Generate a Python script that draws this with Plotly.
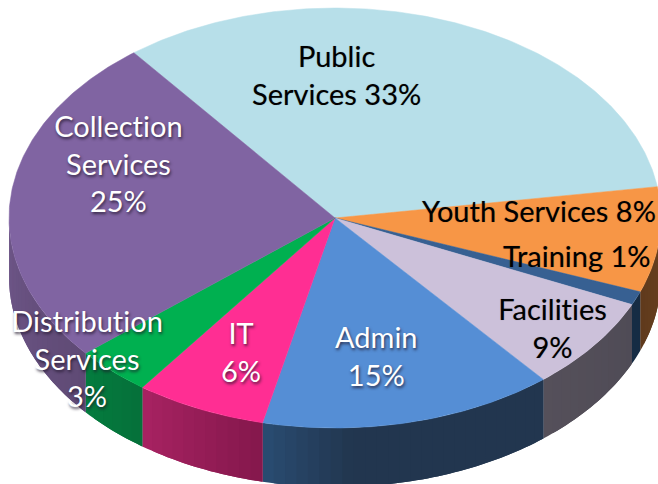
import numpy as np
import plotly.graph_objects as go

categories = ["Public Services", "Youth Services", "Training", "Facilities",
              "Admin", "IT", "Distribution Services", "Collection Services"]
# Slice shares as they appear in the tilted drawing (percent)
shares = [33.2, 8.1, 1.05, 7.2, 14.6, 6.5, 3.8, 25.55]
top_colors = ["#b7dfe9", "#f79646", "#376092", "#ccc1da", "#558ed5", "#ff2e93", "#00b050", "#8064a2"]
side_left = ["#8fb0b8", "#5f3a1c", "#17304a", "#55505a", "#2a4c72", "#a82262", "#047c3e", "#6e5688"]
side_right = ["#8fb0b8", "#6a4020", "#14283e", "#4f4b56", "#22364f", "#84184c", "#05703a", "#5f4a75"]
gradient_span = [1, 1, 1, 1, 0.3, 1, 1, 1]
label_lines = [("Public<br>Services 33%", 336, 74, "#000000"),
               ("Youth Services 8%", 539, 210, "#000000"),
               ("Training 1%", 577, 255, "#000000"),
               ("Facilities<br>9%", 552, 327, "#000000"),
               ("Admin<br>15%", 376, 355, "#ffffff"),
               ("IT<br>6%", 241, 351, "#ffffff"),
               ("Distribution<br>Services<br>3%", 87, 358, "#ffffff"),
               ("Collection<br>Services<br>25%", 118, 163, "#ffffff")]

CX, CY, RX, RY, DEPTH = 335, 218, 326, 210, 59
START = 128.1


def rim(t_deg, drop=0):
    t = np.radians(t_deg)
    return CX + RX * np.cos(t), CY - RY * np.sin(t) + drop


def mix(a, b, f):
    ca = [int(a[i:i + 2], 16) for i in (1, 3, 5)]
    cb = [int(b[i:i + 2], 16) for i in (1, 3, 5)]
    return "rgb(%d,%d,%d)" % tuple(round(p + (q - p) * f) for p, q in zip(ca, cb))


edges = START - np.concatenate([[0], np.cumsum(shares)]) * 3.6
fig = go.Figure()

# Side wall: only the near half of the rim shows
for i, name in enumerate(categories):
    a, b = edges[i], edges[i + 1]
    lo, hi = max(min(a, b), -180), min(max(a, b), 0)
    if hi <= lo:
        continue
    steps = max(1, int((hi - lo) / 2))
    ts = np.linspace(lo, hi, steps + 1)
    for k in range(steps):
        # every band runs on under the next one so no seams show
        end = min(hi, ts[k + 1] + (hi - lo) / steps)
        arc = np.linspace(ts[k], end, 5)
        xt, yt = rim(arc)
        xb, yb = rim(arc[::-1], DEPTH)
        col = mix(side_left[i], side_right[i], min(1, (k + 0.5) / steps / gradient_span[i]))
        fig.add_trace(go.Scatter(x=np.r_[xt, xb, xt[0]], y=np.r_[yt, yb, yt[0]],
                                 mode="none", fill="toself", fillcolor=col,
                                 hoverinfo="skip", showlegend=False))

# Top face
for i, name in enumerate(categories):
    ts = np.linspace(edges[i], edges[i + 1], max(3, int(shares[i] * 6)))
    xs, ys = rim(ts)
    fig.add_trace(go.Scatter(x=np.r_[CX, xs, CX], y=np.r_[CY, ys, CY],
                             mode="lines", fill="toself", fillcolor=top_colors[i],
                             line=dict(color=top_colors[i], width=0.5),
                             name=name, showlegend=False))

for text, x, y, color in label_lines:
    shadow = "1px 2px 3px rgba(30,20,40,0.75)" if color == "#ffffff" else "0px 0px 1px rgba(0,0,0,0.35)"
    fig.add_annotation(x=x, y=y, text=text, showarrow=False, align="center",
                       font=dict(family="Lato, Carlito, sans-serif", size=29, color=color, shadow=shadow))

fig.update_layout(width=658, height=484, margin=dict(l=0, r=0, t=0, b=0),
                  paper_bgcolor="white", plot_bgcolor="white", showlegend=False,
                  xaxis=dict(range=[0, 658], visible=False, fixedrange=True),
                  yaxis=dict(range=[484, 0], visible=False, fixedrange=True))
fig.write_html("out.html", config={"displayModeBar": False},
               post_script="document.body.style.margin='0';document.body.style.overflow='hidden';"
                           "var s=document.createElement('style');"
                           "s.textContent='text{font-variant-ligatures:none;font-feature-settings:\"liga\" 0}';"
                           "document.head.appendChild(s);")
